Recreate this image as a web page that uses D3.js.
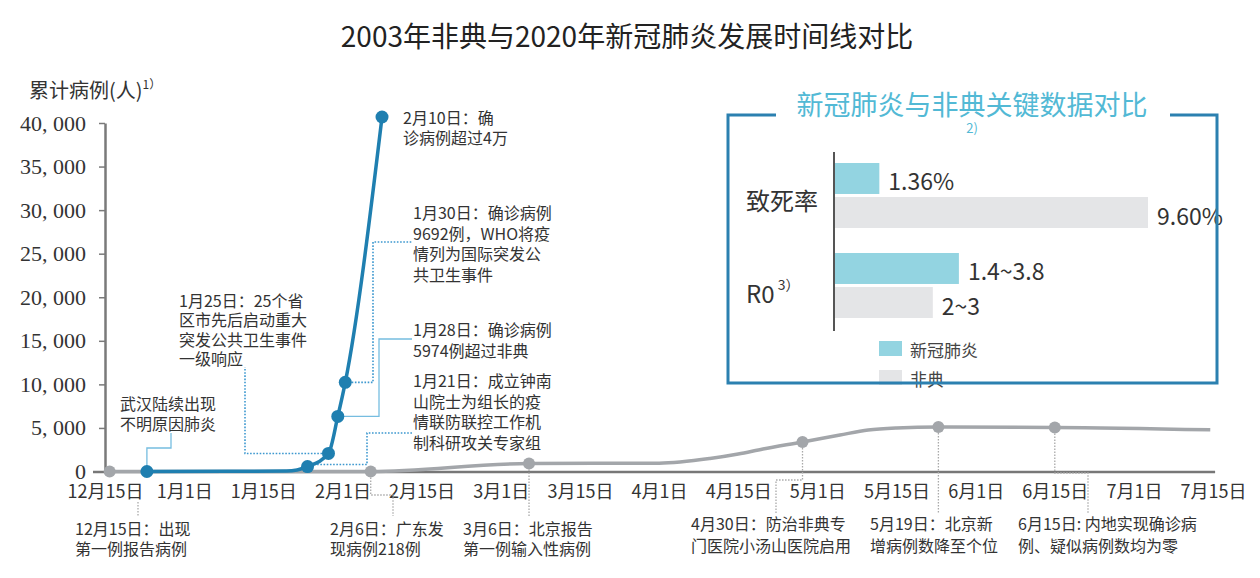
<!DOCTYPE html>
<html><head><meta charset="utf-8">
<script src="https://cdn.jsdelivr.net/npm/d3@7"></script>
<style>
body{margin:0;background:#fff}
svg{display:block}
text{font-family:"Noto Sans CJK SC","Noto Sans",sans-serif;fill:#333}
</style>
</head><body>
<svg id="chart" width="1260" height="578"></svg>
<script>
// ---------------- data ----------------
const xTickLabels = ["12月15日","1月1日","1月15日","2月1日","2月15日","3月1日","3月15日","4月1日","4月15日","5月1日","5月15日","6月1日","6月15日","7月1日","7月15日"];
const xTickDates = ["2019-12-15","2020-01-01","2020-01-15","2020-02-01","2020-02-15","2020-03-01","2020-03-15","2020-04-01","2020-04-15","2020-05-01","2020-05-15","2020-06-01","2020-06-15","2020-07-01","2020-07-15"];
const yTicks = [0,5000,10000,15000,20000,25000,30000,35000,40000];

// 2020 新冠 cumulative cases (positions)
const covidDates = ["2019-12-24","2020-01-20","2020-01-24T12","2020-01-29","2020-01-31","2020-02-01T12","2020-02-08"];
const covidCases = [0, 60, 570, 2070, 6320, 10230, 40690];
const covidMarked = [true,false,true,true,true,true,true];

// 2003 非典 cumulative cases, drawn on the same month/day axis
const sarsDates = ["2019-12-16","2020-02-06","2020-03-06","2020-04-01","2020-04-10","2020-04-15","2020-04-20","2020-04-28","2020-05-05","2020-05-10","2020-05-15","2020-05-24","2020-06-15","2020-07-14T12"];
const sarsCases = [0, 0, 920, 950, 1490, 2010, 2580, 3390, 4190, 4760, 4990, 5100, 5060, 4780];
const sarsMarked = [true,true,true,false,false,false,false,true,false,false,false,true,true,false];

// inset comparison
const metricCats = ["致死率","R0"];
const metricSeries = ["新冠肺炎","非典"];
const covidMetric = [1.36, 3.8];
const sarsMetric = [9.60, 3.0];
const covidMetricLabels = ["1.36%","1.4~3.8"];
const sarsMetricLabels = ["9.60%","2~3"];

// annotation texts
const covidNoteIndex = [0,2,3,4,5,6];
const covidNoteText = [
  ["武汉陆续出现","不明原因肺炎"],
  ["1月21日：成立钟南","山院士为组长的疫","情联防联控工作机","制科研攻关专家组"],
  ["1月25日：25个省","区市先后启动重大","突发公共卫生事件","一级响应"],
  ["1月28日：确诊病例","5974例超过非典"],
  ["1月30日：确诊病例","9692例，WHO将疫","情列为国际突发公","共卫生事件"],
  ["2月10日：确","诊病例超过4万"]
];
const sarsNoteIndex = [0,1,2,7,11,12];
const sarsNoteText = [
  ["12月15日：出现","第一例报告病例"],
  ["2月6日：广东发","现病例218例"],
  ["3月6日：北京报告","第一例输入性病例"],
  ["4月30日：防治非典专","门医院小汤山医院启用"],
  ["5月19日：北京新","增病例数降至个位"],
  ["6月15日: 内地实现确诊病","例、疑似病例数均为零"]
];

// ---------------- drawing ----------------
const svg = d3.select("#chart");
const parse = s => d3.utcParse(s.length > 10 ? "%Y-%m-%dT%H" : "%Y-%m-%d")(s);
const tickDates = xTickDates.map(parse);
const x0 = 105, step = 79.15;
const x = d3.scaleUtc().domain(tickDates).range(tickDates.map((d,i)=>x0 + i*step));
const y = d3.scaleLinear().domain([0,40000]).range([471.5,123]);

const covid = covidDates.map((d,i)=>({date:parse(d), v:covidCases[i], m:covidMarked[i]}));
const sars = sarsDates.map((d,i)=>({date:parse(d), v:sarsCases[i], m:sarsMarked[i]}));
const P = d => [x(d.date), y(d.v)];

// title
svg.append("text").attr("x",627).attr("y",35).attr("text-anchor","middle")
  .attr("dominant-baseline","central").style("font-size","28px").style("fill","#222")
  .text("2003年非典与2020年新冠肺炎发展时间线对比");

// y axis title
const yt = svg.append("text").attr("x",29).attr("y",89).attr("dominant-baseline","central")
  .style("font-size","20px").style("fill","#333");
yt.append("tspan").text("累计病例(人)");
yt.append("tspan").attr("dy",-6).style("font-size","12px").text("1）");

// y axis
const yAxis = svg.append("g").attr("transform","translate(105,0)")
  .call(d3.axisLeft(y).tickValues(yTicks).tickSize(6).tickSizeOuter(0).tickPadding(13)
    .tickFormat(d => d3.format(",")(d).replace(",", ", ")));
yAxis.select(".domain").attr("stroke","#7a7a7a").attr("stroke-width",2.5);
yAxis.selectAll(".tick line").attr("stroke","#7a7a7a").attr("stroke-width",1.5);
yAxis.selectAll(".tick text").style("font-family",'"Liberation Serif","DejaVu Serif",serif')
  .style("font-size","22px").style("fill","#333");

// x axis
const xAxis = svg.append("g").attr("transform","translate(0,472)")
  .call(d3.axisBottom(x).tickValues(tickDates).tickSize(0).tickFormat((d,i)=>xTickLabels[i]));
xAxis.select(".domain").remove();
xAxis.selectAll(".tick text").attr("y",20).attr("dy","0.35em")
  .style("font-size","18px").style("fill","#333");
svg.append("line").attr("x1",x.range()[0]-12).attr("x2",x.range()[x.range().length-1]+2)
  .attr("y1",472).attr("y2",472).attr("stroke","#777").attr("stroke-width",2.5);

// connectors
const blueDot = "#3d98cf", blueSolid = "#76bde0", grayDot = "#a9a9a9";
const covidConn = [
  p => `M${p[0]},${p[1]}V448H171V433`,
  p => `M${p[0]},${p[1]-2}H367V433H412`,
  p => `M${p[0]},${p[1]}H245V367`,
  p => `M${p[0]},${p[1]}H379V339H412`,
  p => `M${p[0]},${p[1]}H373V242H412`,
  null
];
const covidConnStyle = ["solid","dot","dot","solid","dot",null];
covidNoteIndex.forEach((idx,k)=>{
  if(!covidConn[k]) return;
  const p = P(covid[idx]);
  const path = svg.append("path").attr("d",covidConn[k](p)).attr("fill","none");
  if(covidConnStyle[k]==="dot") path.attr("stroke",blueDot).attr("stroke-width",1.6).attr("stroke-dasharray","1.6,1.6");
  else path.attr("stroke",blueSolid).attr("stroke-width",1.3);
});
const sarsConn = [
  p => `M138,502V516`,
  p => `M${p[0]},${p[1]}V495H393V516`,
  p => `M${p[0]},${p[1]}V516`,
  p => `M${p[0]},${p[1]}V480H776V513`,
  p => `M${p[0]},${p[1]}V513`,
  p => `M${p[0]},${p[1]}V473H1088V513`
];
sarsNoteIndex.forEach((idx,k)=>{
  const p = P(sars[idx]);
  svg.append("path").attr("d",sarsConn[k](p)).attr("fill","none")
    .attr("stroke",grayDot).attr("stroke-width",1.3).attr("stroke-dasharray","1.5,1.5");
});

// lines
const line = d3.line().x(d=>x(d.date)).y(d=>y(d.v)).curve(d3.curveMonotoneX);
svg.append("path").datum(sars).attr("d",line).attr("fill","none")
  .attr("stroke","#a3a6aa").attr("stroke-width",3.5);
svg.append("path").datum(covid).attr("d",line).attr("fill","none")
  .attr("stroke","#1f7fb0").attr("stroke-width",3.5).attr("stroke-linejoin","round");

svg.selectAll("circle.s").data(sars.filter(d=>d.m)).join("circle").attr("class","s")
  .attr("cx",d=>x(d.date)).attr("cy",d=>y(d.v)).attr("r",6).attr("fill","#a3a6aa");
svg.selectAll("circle.c").data(covid.filter(d=>d.m)).join("circle").attr("class","c")
  .attr("cx",d=>x(d.date)).attr("cy",d=>y(d.v)).attr("r",6.5).attr("fill","#1f7fb0");

// annotation texts
function block(lines, tx, ty, lh){
  const t = svg.append("text").style("font-size","16px").style("fill","#333");
  lines.forEach((s,i)=>t.append("tspan").attr("x",tx).attr("y",ty+i*lh)
    .attr("dominant-baseline","central").text(s));
}
const covidNotePos = [[120,403,20],[413,380,20.6],[179,300,19.4],[413,329,20.5],[413,212,20.5],[403,117,20]];
covidNoteText.forEach((l,k)=>block(l,covidNotePos[k][0],covidNotePos[k][1],covidNotePos[k][2]));
const sarsNotePos = [[75,528,20],[330,528,20],[463,528,20],[691,523,22],[870,523,22],[1018,523,22]];
sarsNoteText.forEach((l,k)=>block(l,sarsNotePos[k][0],sarsNotePos[k][1],sarsNotePos[k][2]));

// ---------------- inset ----------------
const teal = "#93d4e1", lightGray = "#e4e5e7";
const bx = d3.scaleLinear().domain([0,9.6]).range([835,1148]);
const by = d3.scaleBand().domain(metricCats).range([150.5,330.5]).paddingInner(25/90).paddingOuter(12.5/90);
const bs = d3.scaleBand().domain(metricSeries).range([0,by.bandwidth()]).paddingInner(0.09);

const rows = [];
metricCats.forEach((c,i)=>{
  rows.push({c, s:metricSeries[0], v:covidMetric[i], lab:covidMetricLabels[i], col:teal});
  rows.push({c, s:metricSeries[1], v:sarsMetric[i], lab:sarsMetricLabels[i], col:lightGray});
});
svg.selectAll("rect.bar").data(rows).join("rect").attr("class","bar")
  .attr("x",bx(0)).attr("y",d=>by(d.c)+bs(d.s)).attr("width",d=>bx(d.v)-bx(0))
  .attr("height",bs.bandwidth()).attr("fill",d=>d.col);
svg.selectAll("text.val").data(rows).join("text").attr("class","val")
  .attr("x",d=>bx(d.v)+9).attr("y",d=>by(d.c)+bs(d.s)+bs.bandwidth()/2+2)
  .attr("dominant-baseline","central").style("font-size","23px").style("fill","#333").text(d=>d.lab);
svg.append("line").attr("x1",834).attr("x2",834).attr("y1",152).attr("y2",331)
  .attr("stroke","#555").attr("stroke-width",2);

metricCats.forEach((c,i)=>{
  const t = svg.append("text").attr("x",746).attr("y",by(c)+by.bandwidth()/2+(i?6:3))
    .attr("dominant-baseline","central").style("font-size","24px").style("fill","#333");
  t.append("tspan").text(c);
  if(c==="R0") t.append("tspan").attr("dy",-8).style("font-size","14px").text(" 3）");
});

// legend
metricSeries.forEach((s,i)=>{
  svg.append("rect").attr("x",879).attr("y",341+i*29).attr("width",23).attr("height",15)
    .attr("fill",i?lightGray:teal);
  svg.append("text").attr("x",910).attr("y",349.5+i*29).attr("dominant-baseline","central")
    .style("font-size","17px").style("fill","#444").text(s);
});

// frame + inset title
svg.append("path").attr("d","M776,115H728V383H1217V115H1170").attr("fill","none")
  .attr("stroke","#2b80b0").attr("stroke-width",3);
svg.append("text").attr("x",972).attr("y",103).attr("text-anchor","middle")
  .attr("dominant-baseline","central").style("font-size","27px").style("fill","#52b9d5")
  .text("新冠肺炎与非典关键数据对比");
svg.append("text").attr("x",972).attr("y",127).attr("text-anchor","middle")
  .attr("dominant-baseline","central").style("font-size","13px").style("fill","#52b9d5").text("2)");
</script>
</body></html>
